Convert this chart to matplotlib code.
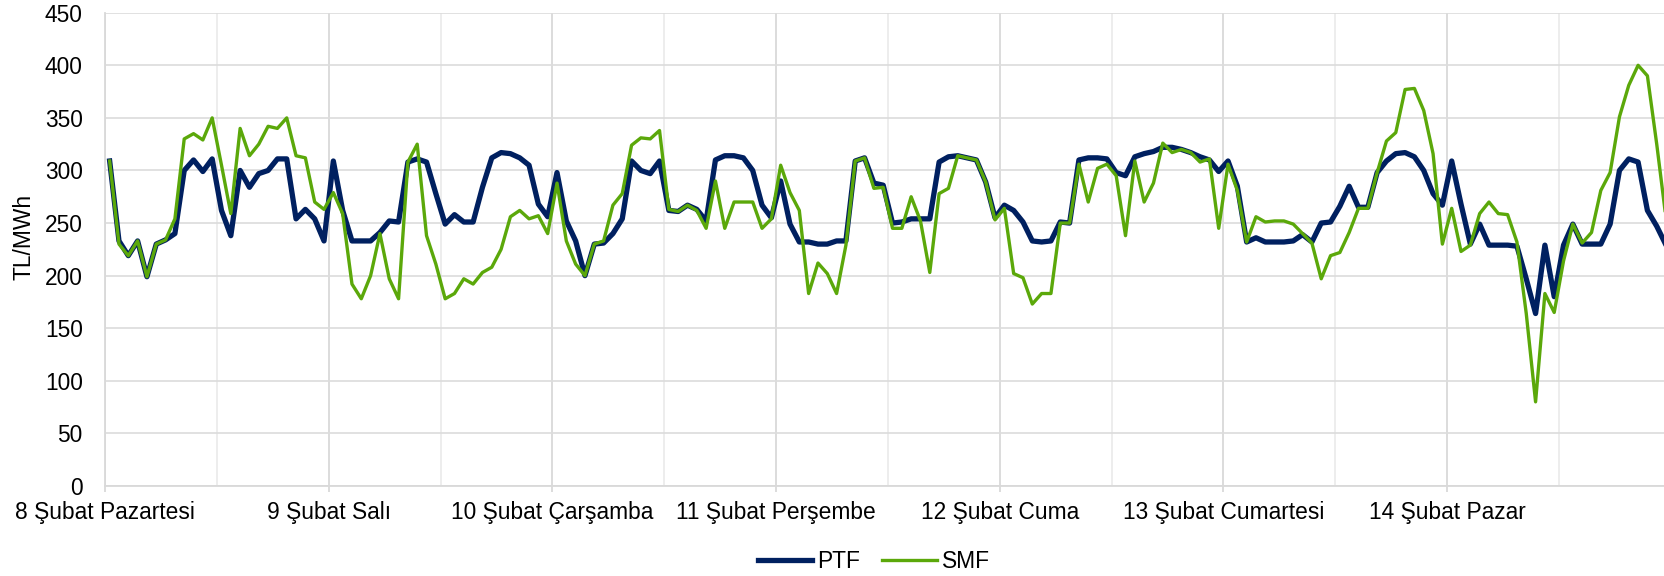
import matplotlib
matplotlib.use("Agg")
import matplotlib.pyplot as plt
import numpy as np

### Data (hourly, 8-14 Subat)

days = ["8 Şubat Pazartesi", "9 Şubat Salı", "10 Şubat Çarşamba", "11 Şubat Perşembe",
        "12 Şubat Cuma", "13 Şubat Cumartesi", "14 Şubat Pazar"]

ptf = [309, 233, 219, 233, 199, 230, 234, 240, 300, 310, 299, 311, 262, 238, 300, 284, 297, 300, 311, 311, 254, 263, 254, 233,
       309, 262, 233, 233, 233, 241, 252, 251, 308, 311, 308, 278, 249, 258, 251, 251, 284, 312, 317, 316, 312, 305, 268, 256,
       298, 252, 233, 200, 230, 231, 240, 254, 309, 300, 297, 309, 262, 261, 267, 263, 252, 310, 314, 314, 312, 300, 267, 255,
       290, 249, 232, 232, 230, 230, 233, 233, 309, 312, 288, 286, 250, 251, 254, 254, 254, 308, 313, 314, 312, 310, 289, 255,
       267, 262, 251, 233, 232, 233, 251, 250, 310, 312, 312, 311, 298, 295, 313, 316, 318, 322, 322, 320, 317, 313, 310, 299,
       309, 285, 232, 236, 232, 232, 232, 233, 239, 232, 250, 251, 266, 285, 265, 265, 298, 309, 316, 317, 313, 300, 278, 267,
       309, 268, 230, 249, 229, 229, 229, 228, 197, 164, 229, 180, 229, 249, 230, 230, 230, 249, 300, 311, 308, 262, 247, 229]

smf = [309, 230, 219, 233, 199, 230, 234, 254, 330, 335, 329, 350, 305, 259, 340, 314, 325, 342, 340, 350, 314, 312, 270, 263,
       279, 259, 192, 178, 200, 240, 197, 178, 308, 325, 238, 211, 178, 183, 197, 192, 203, 208, 225, 256, 262, 254, 257, 240,
       288, 233, 211, 200, 230, 233, 267, 278, 324, 331, 330, 338, 263, 261, 267, 262, 245, 290, 245, 270, 270, 270, 245, 254,
       305, 279, 262, 183, 212, 202, 183, 229, 309, 312, 283, 284, 245, 245, 275, 252, 203, 278, 283, 314, 312, 310, 289, 253,
       264, 202, 198, 173, 183, 183, 250, 250, 306, 270, 302, 306, 295, 238, 309, 270, 288, 326, 317, 320, 317, 308, 311, 245,
       306, 281, 232, 256, 251, 252, 252, 249, 240, 231, 197, 219, 222, 241, 264, 264, 298, 328, 336, 377, 378, 357, 316, 230,
       264, 223, 229, 259, 270, 259, 258, 232, 164, 80, 183, 165, 214, 249, 231, 241, 281, 298, 351, 381, 400, 390, 325, 254]

hours = np.arange(len(ptf))

plt.rcParams['font.family'] = ['Liberation Sans', 'DejaVu Sans']
fs = 16.4

fig = plt.figure(figsize=(16.64, 5.76), dpi=100)
ax = fig.add_axes([105 / 1664, 90 / 576, 1559 / 1664, 473.3 / 576])

ax.plot(hours, ptf, color='#002060', lw=3.8, solid_joinstyle='round', label='PTF', zorder=3)
ax.plot(hours, smf, color='#5BA80A', lw=2.4, solid_joinstyle='round', label='SMF', zorder=4)

# chart is cut at the right edge like the source image
ax.set_xlim(-0.5, 166.78)
ax.set_ylim(0, 450)
ax.set_yticks(np.arange(0, 451, 50))

day_pos = np.arange(len(days)) * 24 - 0.5
ax.set_xticks(day_pos)
ax.set_xticklabels(days, fontsize=fs)
ax.set_xticks(np.arange(11.5, 167, 24), minor=True)

ax.grid(axis='y', color='#dcdcdc', lw=1.2)
ax.grid(axis='x', which='major', color='#d9d9d9', lw=1.3)
ax.grid(axis='x', which='minor', color='#ececec', lw=1.3)
ax.set_axisbelow(True)

for s in ['top', 'right']:
    ax.spines[s].set_visible(False)
for s in ['left', 'bottom']:
    ax.spines[s].set_color('#d9d9d9')
    ax.spines[s].set_linewidth(1.3)

ax.tick_params(axis='x', which='major', length=4.5, color='#d9d9d9', width=1.3, pad=6, labelcolor='black')
ax.tick_params(axis='x', which='minor', length=0)
ax.tick_params(axis='y', length=0, pad=16, labelsize=fs)

ax.set_ylabel('TL/MWh', fontsize=fs)
ax.yaxis.set_label_coords(-0.0445, 0.526)

fig.legend(loc='center', bbox_to_anchor=(0.525, 0.026), ncol=2, frameon=False, fontsize=fs,
           handlelength=2.4, handletextpad=0.2, columnspacing=1.0)

plt.savefig('out.png', dpi=100)
